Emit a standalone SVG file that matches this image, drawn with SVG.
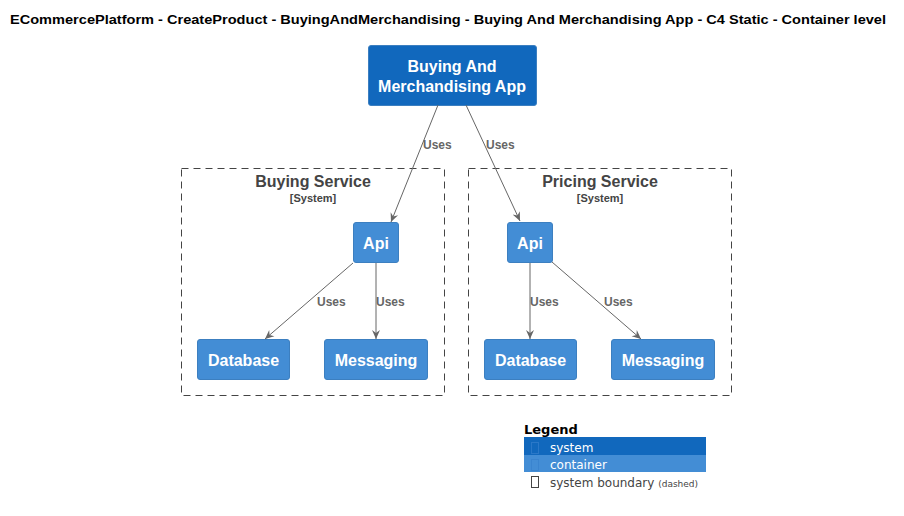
<svg xmlns="http://www.w3.org/2000/svg" width="904" height="516" viewBox="0 0 904 516">
<defs>
<marker id="ah" markerWidth="10" markerHeight="10" refX="9" refY="5" orient="auto" markerUnits="userSpaceOnUse">
<path d="M0,1 L9,5 L0,9 L3,5 Z" fill="#666666"/>
</marker>
<style>
text{font-family:"Liberation Sans",Arial,sans-serif}
.title{font-size:13px;font-weight:bold;fill:#000}
.sys{fill:#1168BD;stroke:#3C7FC0;stroke-width:1}
.cont{fill:#438DD5;stroke:#3C7FC0;stroke-width:1}
.nt{font-size:16px;font-weight:bold;fill:#fff;text-anchor:middle}
.bnd{fill:none;stroke:#444;stroke-width:1;stroke-dasharray:7,5}
.bt{font-size:16px;font-weight:bold;fill:#444;text-anchor:middle}
.bs{font-size:11px;font-weight:bold;fill:#444;text-anchor:middle}
.ln{stroke:#666;stroke-width:1;fill:none;marker-end:url(#ah)}
.lb{font-size:12px;font-weight:bold;fill:#666}
.lg{font-family:"DejaVu Sans",sans-serif;font-size:12px;fill:#fff}
.tofu{fill:none;stroke-width:1}
</style>
</defs>
<rect width="904" height="516" fill="#fff"/>
<text class="title" x="10" y="24" textLength="876" lengthAdjust="spacingAndGlyphs">ECommercePlatform - CreateProduct - BuyingAndMerchandising - Buying And Merchandising App - C4 Static - Container level</text>

<g id="buying-boundary">
<rect class="bnd" x="181.5" y="168.5" width="263" height="227"/>
<text class="bt" x="313" y="187">Buying Service</text>
<text class="bs" x="313" y="202">[System]</text>
</g>
<g id="pricing-boundary">
<rect class="bnd" x="468.5" y="168.5" width="263" height="227"/>
<text class="bt" x="600" y="187">Pricing Service</text>
<text class="bs" x="600" y="202">[System]</text>
</g>

<g id="app">
<rect class="sys" x="368.5" y="45.5" width="168" height="60" rx="2.5"/>
<text class="nt" x="452" y="72">Buying And</text>
<text class="nt" x="452" y="92">Merchandising App</text>
</g>

<g id="buying-api">
<rect class="cont" x="353.5" y="222.5" width="45" height="40" rx="2.5"/>
<text class="nt" x="376" y="249">Api</text>
</g>
<g id="buying-db">
<rect class="cont" x="197.5" y="339.5" width="92" height="40" rx="2.5"/>
<text class="nt" x="243.5" y="366">Database</text>
</g>
<g id="buying-msg">
<rect class="cont" x="324.5" y="339.5" width="103" height="40" rx="2.5"/>
<text class="nt" x="376" y="366">Messaging</text>
</g>

<g id="pricing-api">
<rect class="cont" x="507.5" y="222.5" width="45" height="40" rx="2.5"/>
<text class="nt" x="530" y="249">Api</text>
</g>
<g id="pricing-db">
<rect class="cont" x="484.5" y="339.5" width="92" height="40" rx="2.5"/>
<text class="nt" x="530.5" y="366">Database</text>
</g>
<g id="pricing-msg">
<rect class="cont" x="611.5" y="339.5" width="103" height="40" rx="2.5"/>
<text class="nt" x="663" y="366">Messaging</text>
</g>

<g id="connectors">
<line class="ln" x1="438" y1="105" x2="391" y2="222"/>
<text class="lb" x="423" y="149">Uses</text>
<line class="ln" x1="466" y1="105" x2="520" y2="221"/>
<text class="lb" x="486" y="149">Uses</text>
<line class="ln" x1="353" y1="263" x2="265" y2="339"/>
<text class="lb" x="317" y="306">Uses</text>
<line class="ln" x1="376" y1="263" x2="376" y2="339"/>
<text class="lb" x="376" y="306">Uses</text>
<line class="ln" x1="530" y1="263" x2="530" y2="339"/>
<text class="lb" x="530" y="306">Uses</text>
<line class="ln" x1="552" y1="262" x2="641" y2="339"/>
<text class="lb" x="604" y="306">Uses</text>
</g>

<g id="legend">
<text x="524" y="434" style="font-family:'DejaVu Sans',sans-serif;font-size:13px;font-weight:bold;fill:#000">Legend</text>
<rect x="524" y="437" width="182" height="18" fill="#1168BD"/>
<rect x="524" y="455" width="182" height="17" fill="#438DD5"/>
<rect class="tofu" x="531.5" y="442.5" width="7" height="11" stroke="#2a78c8"/>
<rect class="tofu" x="531.5" y="459.5" width="7" height="11" stroke="#3a84cf"/>
<rect class="tofu" x="531.5" y="476.5" width="7" height="11" stroke="#444"/>
<text class="lg" x="550" y="452">system</text>
<text class="lg" x="550" y="469">container</text>
<text x="550" y="487" style="font-family:'DejaVu Sans',sans-serif;font-size:12px;fill:#444">system boundary <tspan style="font-size:9px">(dashed)</tspan></text>
</g>
</svg>
